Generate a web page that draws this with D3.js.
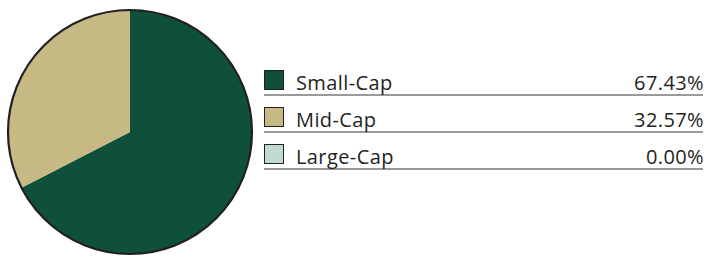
<!DOCTYPE html>
<html>
<head>
<meta charset="utf-8">
<script src="https://cdn.jsdelivr.net/npm/d3@7"></script>
<style>
  body { margin: 0; background: #fff; }
  svg { display: block; }
</style>
</head>
<body>
<div id="chart"></div>
<script>
var categories = ["Small-Cap", "Mid-Cap", "Large-Cap"];
var values = [67.43, 32.57, 0.00];
var colors = ["#0f503a", "#c6b983", "#c2d9d1"];

var width = 705;
var height = 258;

var svg = d3.select("#chart")
  .append("svg")
  .attr("width", width)
  .attr("height", height);

var data = categories.map(function(c, i) {
  return { name: c, value: values[i], color: colors[i] };
});

// pie
var radius = 122;
var pie = d3.pie()
  .sort(null)
  .value(function(d) { return d.value; });

var arc = d3.arc()
  .innerRadius(0)
  .outerRadius(radius);

var pieG = svg.append("g")
  .attr("transform", "translate(130,132)");

pieG.selectAll("path.slice")
  .data(pie(data).filter(function(d) { return d.data.value > 0; }))
  .enter()
  .append("path")
  .attr("class", "slice")
  .attr("d", arc)
  .attr("fill", function(d) { return d.data.color; });

pieG.append("circle")
  .attr("r", radius)
  .attr("fill", "none")
  .attr("stroke", "#231f20")
  .attr("stroke-width", 2.2);

// legend
var rowY = d3.scaleBand()
  .domain(categories)
  .range([62, 173])
  .paddingInner(0);

var legend = svg.append("g");

var rows = legend.selectAll("g.row")
  .data(data)
  .enter()
  .append("g")
  .attr("class", "row")
  .attr("transform", function(d) { return "translate(0," + rowY(d.name) + ")"; });

rows.append("rect")
  .attr("x", 264.5)
  .attr("y", 8.5)
  .attr("width", 19)
  .attr("height", 19)
  .attr("fill", function(d) { return d.color; })
  .attr("stroke", "#231f20")
  .attr("stroke-width", 1);

rows.append("line")
  .attr("x1", 264)
  .attr("x2", 703)
  .attr("y1", 33)
  .attr("y2", 33)
  .attr("stroke", "#9a9a9a")
  .attr("stroke-width", 2);

rows.append("text")
  .attr("x", 296)
  .attr("y", 28)
  .attr("font-family", "'Open Sans', sans-serif")
  .attr("font-size", 20)
  .attr("letter-spacing", 0.4)
  .attr("fill", "#231f20")
  .text(function(d) { return d.name; });

rows.append("text")
  .attr("x", 704)
  .attr("y", 28)
  .attr("text-anchor", "end")
  .attr("font-family", "'Open Sans', sans-serif")
  .attr("font-size", 20)
  .attr("letter-spacing", 0.4)
  .attr("fill", "#231f20")
  .text(function(d) { return d.value.toFixed(2) + "%"; });
</script>
</body>
</html>
